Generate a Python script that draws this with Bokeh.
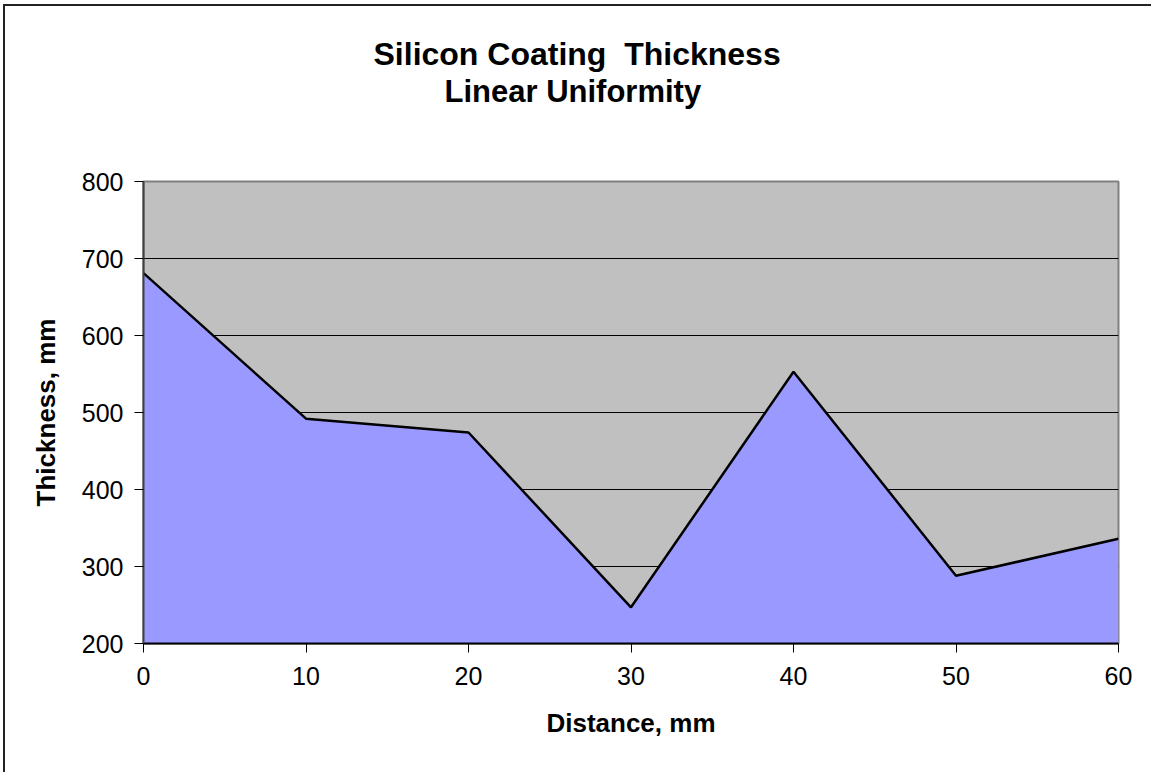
from bokeh.plotting import figure
from bokeh.models import Title, FixedTicker, Range1d
from bokeh.embed import file_html
from bokeh.resources import INLINE

# Data
distance_mm = [0, 10, 20, 30, 40, 50, 60]
thickness_mm = [681, 492, 474, 247, 553, 288, 336]
x_ticks = [0, 10, 20, 30, 40, 50, 60]
y_ticks = [200, 300, 400, 500, 600, 700, 800]
title_lines = ["Silicon Coating \u00a0Thickness", "Linear Uniformity"]
x_label = "Distance, mm"
y_label = "Thickness, mm"

FONT = "Liberation Sans"

p = figure(width=1148, height=768, output_backend="svg", toolbar_location=None,
           x_range=Range1d(0, 60), y_range=Range1d(200, 800),
           min_border_left=138, min_border_right=35, min_border_top=175, min_border_bottom=131)
p.title_location = None
p.margin = (4, 0, 0, 3)
p.styles = {"border-top": "2px solid #222222", "border-left": "2px solid #222222"}

p.background_fill_color = "#C0C0C0"
p.border_fill_color = "white"
p.outline_line_color = "#808080"
p.outline_line_width = 2

# area + line
p.varea(x=distance_mm, y1=y_ticks[0], y2=thickness_mm, fill_color="#9999FF")
p.line(distance_mm, thickness_mm, line_color="black", line_width=2.5)

# grid
p.xgrid.visible = False
p.ygrid.grid_line_color = "black"
p.ygrid.grid_line_width = 1
p.ygrid.ticker = FixedTicker(ticks=y_ticks)

# axes
for ax in (p.xaxis[0], p.yaxis[0]):
    ax.major_label_text_font = FONT
    ax.major_label_text_font_size = "25px"
    ax.major_label_text_color = "black"
    ax.axis_label_text_font = FONT
    ax.axis_label_text_font_size = "26px"
    ax.axis_label_text_font_style = "bold"
    ax.axis_label_text_color = "black"
    ax.minor_tick_line_color = None
    ax.major_tick_in = 0
    ax.major_tick_out = 9
    ax.major_tick_line_color = "black"
    ax.major_tick_line_width = 1

p.xaxis[0].ticker = FixedTicker(ticks=x_ticks)
p.yaxis[0].ticker = FixedTicker(ticks=y_ticks)
p.xaxis[0].axis_label = x_label
p.yaxis[0].axis_label = y_label
p.xaxis[0].axis_line_color = "black"
p.xaxis[0].axis_line_width = 2
p.yaxis[0].axis_line_color = "#404040"
p.yaxis[0].axis_line_width = 2
p.xaxis[0].major_label_standoff = 14
p.yaxis[0].major_label_standoff = 11
p.xaxis[0].axis_label_standoff = 20
p.yaxis[0].axis_label_standoff = 18

# blank spacer between frame and the title block
p.add_layout(Title(text="\u00a0", text_font=FONT, text_font_size="31px", standoff=36), "above")

# title lines: second line nearest the frame, first line above it
title_offsets = [230, 301]
title_sizes = ["32px", "31px"]
for t, off, fs in reversed(list(zip(title_lines, title_offsets, title_sizes))):
    p.add_layout(Title(text=t, align="left", offset=off, text_font=FONT,
                       text_font_size=fs, text_font_style="bold",
                       text_color="black", standoff=0), "above")

open("out.html", "w").write(file_html(p, INLINE))
